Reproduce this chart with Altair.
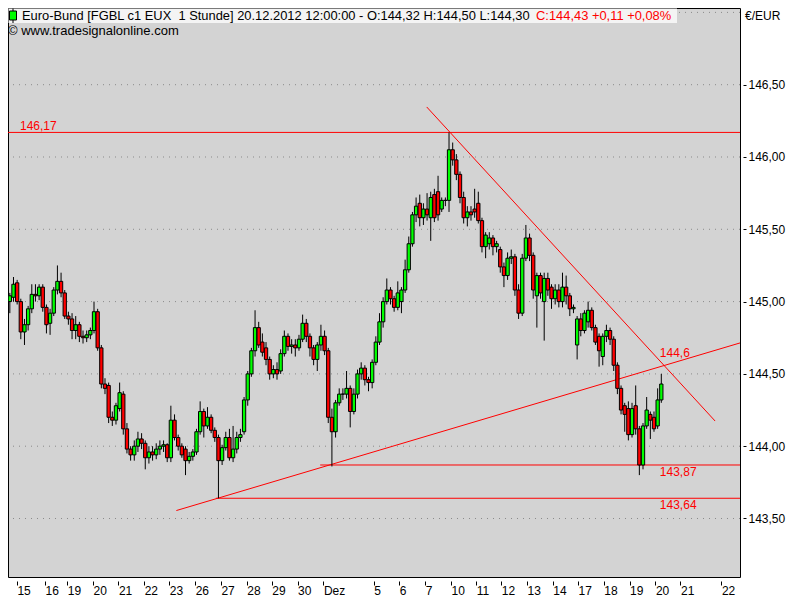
import altair as alt
import pandas as pd

FONT = "Liberation Sans"

# 2-hour candles, 14 Nov (late) .. 20 Dec 2012 12:00
opens = [145.00,145.03,145.13,145.00,144.79,144.84,144.95,145.05,145.04,145.10,
         144.96,144.85,144.92,145.08,145.14,145.06,144.90,144.88,144.80,144.84,
         144.76,144.75,144.77,144.80,144.93,144.68,144.43,144.42,144.20,144.18,
         144.26,144.36,144.12,143.98,143.94,144.00,144.05,144.02,143.92,143.96,
         143.94,143.98,144.00,144.01,143.92,144.18,144.06,144.00,143.98,143.90,
         143.93,143.96,144.10,144.24,144.14,144.20,144.11,144.06,143.90,143.99,
         144.06,143.92,143.98,144.06,144.10,144.32,144.50,144.66,144.82,144.72,
         144.68,144.60,144.50,144.53,144.52,144.64,144.76,144.69,144.70,144.68,
         144.74,144.85,144.76,144.68,144.60,144.70,144.76,144.66,144.20,144.10,
         144.30,144.36,144.36,144.40,144.24,144.36,144.50,144.54,144.46,144.44,
         144.58,144.72,144.86,145.00,145.08,145.02,144.96,145.00,145.08,145.22,
         145.40,145.60,145.68,145.58,145.64,145.58,145.74,145.76,145.64,145.70,
         145.70,146.05,145.98,145.88,145.72,145.58,145.62,145.64,145.68,145.56,
         145.38,145.40,145.44,145.38,145.36,145.24,145.18,145.30,145.31,145.08,
         144.92,145.30,145.44,145.32,145.04,145.18,145.00,145.16,145.10,145.02,
         145.08,145.00,145.10,145.04,144.95,144.70,144.88,144.80,144.86,144.94,
         144.82,144.76,144.62,144.76,144.80,144.74,144.56,144.40,144.28,144.26,
         144.08,144.28,144.12,143.87,144.14,144.22,144.20,144.14,144.32]
highs = [145.06,145.17,145.15,145.02,144.88,144.97,145.12,145.12,145.12,145.12,
         144.98,144.95,145.10,145.25,145.20,145.08,144.93,144.92,144.90,144.86,
         144.80,144.80,144.82,145.00,144.95,144.70,144.47,144.44,144.24,144.30,
         144.44,144.38,144.16,144.00,144.04,144.10,144.09,144.04,144.00,144.00,
         144.02,144.04,144.04,144.02,144.28,144.22,144.08,144.02,144.00,143.96,
         143.98,144.12,144.31,144.26,144.27,144.22,144.13,144.08,144.01,144.10,
         144.12,144.14,144.10,144.12,144.34,144.52,144.68,144.94,144.86,144.78,
         144.72,144.62,144.56,144.58,144.67,144.80,144.78,144.74,144.74,144.77,
         144.91,144.88,144.78,144.70,144.72,144.84,144.80,144.68,144.26,144.32,
         144.40,144.40,144.52,144.42,144.40,144.53,144.58,144.56,144.48,144.60,
         144.76,144.92,145.03,145.16,145.10,145.04,145.14,145.10,145.29,145.45,
         145.62,145.72,145.74,145.68,145.75,145.76,145.78,145.87,145.72,145.72,
         146.17,146.10,146.02,145.90,145.76,145.66,145.66,145.78,145.76,145.58,
         145.48,145.48,145.46,145.42,145.38,145.27,145.34,145.36,145.33,145.12,
         145.33,145.53,145.47,145.34,145.20,145.20,145.20,145.20,145.12,145.12,
         145.12,145.20,145.18,145.06,144.98,144.90,144.92,144.94,145.00,144.96,
         144.84,144.78,144.78,144.84,144.82,144.76,144.58,144.42,144.30,144.31,
         144.30,144.42,144.14,144.16,144.34,144.24,144.24,144.40,144.50]
lows = [144.92,145.00,144.98,144.74,144.70,144.80,144.92,145.00,145.01,144.93,
        144.78,144.77,144.90,145.05,145.03,144.88,144.84,144.74,144.74,144.72,
        144.71,144.72,144.74,144.78,144.66,144.40,144.36,144.16,144.14,144.15,
        144.24,144.08,143.95,143.90,143.90,143.96,143.98,143.84,143.88,143.90,
        143.91,143.94,143.96,143.89,143.89,144.04,143.97,143.92,143.80,143.88,
        143.90,143.94,144.08,144.06,144.12,144.09,144.03,143.64,143.87,143.97,
        143.90,143.89,143.95,144.03,144.08,144.28,144.48,144.62,144.68,144.62,
        144.56,144.46,144.47,144.46,144.50,144.62,144.66,144.64,144.62,144.66,
        144.72,144.72,144.62,144.56,144.52,144.66,144.63,144.16,143.86,144.06,
        144.28,144.32,144.33,144.13,144.22,144.33,144.46,144.42,144.38,144.40,
        144.56,144.70,144.82,144.98,144.98,144.93,144.94,144.92,145.06,145.20,
        145.38,145.55,145.52,145.53,145.56,145.42,145.55,145.56,145.62,145.66,
        145.62,145.94,145.84,145.68,145.54,145.52,145.56,145.58,145.54,145.34,
        145.30,145.36,145.32,145.34,145.20,145.10,145.15,145.26,145.04,144.88,
        144.90,145.28,145.28,145.02,144.82,145.02,144.73,145.04,144.95,144.98,
        144.96,144.96,144.98,144.90,144.92,144.60,144.76,144.78,144.82,144.80,
        144.70,144.55,144.56,144.72,144.70,144.52,144.36,144.22,144.10,144.04,
        144.06,144.08,143.80,143.84,144.12,144.05,144.10,144.12,144.30]
closes = [145.04,145.12,145.00,144.79,144.84,144.95,145.05,145.04,145.10,144.96,
          144.84,144.92,145.08,145.14,145.06,144.90,144.88,144.80,144.84,144.76,
          144.75,144.77,144.80,144.93,144.68,144.43,144.40,144.20,144.18,144.28,
          144.37,144.12,143.98,143.94,144.00,144.05,144.02,143.92,143.96,143.94,
          143.98,144.00,144.01,143.92,144.18,144.06,144.00,143.94,143.90,143.93,
          143.96,144.10,144.24,144.14,144.20,144.11,144.06,143.90,143.99,144.06,
          143.92,143.98,144.06,144.08,144.32,144.50,144.66,144.82,144.70,144.65,
          144.60,144.50,144.53,144.50,144.64,144.76,144.69,144.70,144.68,144.74,
          144.85,144.76,144.68,144.60,144.70,144.76,144.66,144.20,144.10,144.30,
          144.36,144.36,144.40,144.24,144.36,144.50,144.54,144.46,144.44,144.58,
          144.72,144.86,145.00,145.08,145.02,144.96,145.06,145.08,145.22,145.40,
          145.60,145.66,145.58,145.64,145.60,145.72,145.58,145.60,145.70,145.70,
          146.05,145.98,145.88,145.72,145.58,145.62,145.60,145.62,145.56,145.38,
          145.46,145.44,145.38,145.40,145.24,145.18,145.30,145.31,145.08,144.92,
          145.30,145.44,145.32,145.08,145.18,145.06,145.16,145.08,145.02,145.08,
          145.00,145.10,145.04,144.95,144.96,144.88,144.80,144.92,144.94,144.82,
          144.72,144.66,144.76,144.80,144.74,144.56,144.40,144.25,144.22,144.08,
          144.26,144.12,143.87,144.14,144.25,144.18,144.12,144.32,144.43]

day_labels = ["15", "16", "19", "20", "21", "22", "23", "26", "27", "28", "29", "30",
              "Dez", "5", "6", "7", "10", "11", "12", "13", "14", "17", "18", "19",
              "20", "21", "22"]
day_ticks = [1.94, 9.61, 15.68, 22.72, 29.66, 36.71, 43.59, 50.64, 57.68, 64.73,
             71.58, 78.63, 85.68, 99.42, 106.41, 113.51, 120.56, 127.41, 134.27,
             141.31, 148.36, 155.24, 162.29, 169.34, 176.38, 183.24, 194.43]
price_ticks = [143.5, 144.0, 144.5, 145.0, 145.5, 146.0, 146.5]
grid_levels = [143.5, 144.0, 144.5, 145.0, 145.5, 146.0, 146.5, 147.0]

level_values = [146.17, 143.87, 143.64]
level_starts = [-0.5, 84.8, 56.3]
level_ends = [199.5, 199.5, 199.5]

trend_names = ["up", "up", "down", "down"]
trend_x = [45.5, 199.5, 113.9, 192.7]
trend_y = [143.555, 144.714, 146.346, 144.174]

above_labels = ["146,17", "144,6"]
above_prices = [146.17, 144.6]
above_x = [2.78, 177.6]
below_labels = ["143,87", "143,64"]
below_prices = [143.87, 143.64]
below_x = [177.6, 177.6]

title_black = "Euro-Bund [FGBL c1 EUX\u00a0 1 Stunde] 20.12.2012 12:00:00 - O:144,32 H:144,50 L:144,30"
title_red = "C:144,43 +0,11 +0,08%"
copyright_text = "\u00a9 www.tradesignalonline.com"
unit_text = "\u20ac/EUR"

W, H = 732, 569
XS = alt.Scale(domain=[-0.5, 199.5], nice=False, zero=False)
YS = alt.Scale(domain=[143.0954, 147.0304], nice=False, zero=False)

lab_arr = "[" + ",".join("'%s'" % l for l in day_labels) + "]"
tick_arr = "[" + ",".join(repr(v) for v in day_ticks) + "]"

x_axis = alt.Axis(values=day_ticks, labelExpr=f"{lab_arr}[indexof({tick_arr}, datum.value)]",
                  title=None, grid=False, domain=False, ticks=True, tickSize=4,
                  tickColor="black", offset=4, labelAlign="left", labelBaseline="top",
                  labelPadding=0, labelFont=FONT, labelFontSize=12, labelColor="black",
                  labelOverlap=False, labelFlush=False, labelBound=False)
y_axis = alt.Axis(orient="right", values=price_ticks,
                  labelExpr="replace(format(datum.value, '.2f'), '.', ',')",
                  title=None, grid=False, domain=False, ticks=True, tickSize=3,
                  tickColor="black", offset=3, labelPadding=2, labelFont=FONT,
                  labelFontSize=12, labelColor="black", labelOverlap=False,
                  labelFlush=False, labelBound=False)


def X(f):
    return alt.X(f, type="quantitative", scale=XS, axis=x_axis)


def Y(f):
    return alt.Y(f, type="quantitative", scale=YS, axis=y_axis)


candles = pd.DataFrame({"i": list(range(len(closes))), "open": opens, "high": highs,
                        "low": lows, "close": closes})
grid_df = pd.DataFrame({"p": grid_levels})
levels_df = pd.DataFrame({"p": level_values, "s": level_starts, "e": level_ends})
trend_df = pd.DataFrame({"name": trend_names, "x": trend_x, "y": trend_y})
above_df = pd.DataFrame({"p": above_prices, "x": above_x, "t": above_labels})
below_df = pd.DataFrame({"p": below_prices, "x": below_x, "t": below_labels})
one = pd.DataFrame({"a": [0]})

grid = alt.Chart(grid_df).mark_rule(color="#8a8a8a", strokeDash=[1, 5], strokeWidth=1).encode(
    y=Y("p"))

levels = alt.Chart(levels_df).mark_rule(color="#ff0000", strokeWidth=1).encode(
    x=X("s"), x2="e", y=Y("p"))

trends = alt.Chart(trend_df).mark_line(color="#ff0000", strokeWidth=1).encode(
    x=X("x"), y=Y("y"), detail="name")

wicks = alt.Chart(candles).mark_rule(color="black", strokeWidth=1).encode(
    x=X("i"), y=Y("low"), y2="high")

bodies = alt.Chart(candles).transform_calculate(
    x1="datum.i - 0.45", x2="datum.i + 0.45"
).mark_bar(stroke="black", strokeWidth=1).encode(
    x=X("x1"), x2="x2", y=Y("open"), y2="close",
    color=alt.condition("datum.close >= datum.open", alt.value("#00ff00"), alt.value("#ff0000")))

above_txt = alt.Chart(above_df).mark_text(
    align="left", baseline="alphabetic", dy=-2, font=FONT, fontSize=12, color="#ff0000"
).encode(x=X("x"), y=Y("p"), text="t")

below_txt = alt.Chart(below_df).mark_text(
    align="left", baseline="top", dy=2, font=FONT, fontSize=12, color="#ff0000"
).encode(x=X("x"), y=Y("p"), text="t")

box = alt.Chart(one).mark_rect(color="#f4f4f4").encode(
    x=alt.value(0.5), x2=alt.value(669), y=alt.value(0.5), y2=alt.value(15))
icon_wick = alt.Chart(one).mark_rule(color="black", strokeWidth=1).encode(
    x=alt.value(5), y=alt.value(0.5), y2=alt.value(15))
icon_body = alt.Chart(one).mark_rect(color="#00ff00", stroke="black", strokeWidth=1).encode(
    x=alt.value(1.5), x2=alt.value(8.5), y=alt.value(3), y2=alt.value(12))
t_black = alt.Chart(one).mark_text(
    align="left", baseline="middle", font=FONT, fontSize=12.9, color="black", text=title_black
).encode(x=alt.value(14), y=alt.value(8))
t_red = alt.Chart(one).mark_text(
    align="left", baseline="middle", font=FONT, fontSize=12.9, color="#ff0000", text=title_red
).encode(x=alt.value(528), y=alt.value(8))
t_copy = alt.Chart(one).mark_text(
    align="left", baseline="middle", font=FONT, fontSize=13, color="black", text=copyright_text
).encode(x=alt.value(0), y=alt.value(23))
t_unit = alt.Chart(one).mark_text(
    align="left", baseline="middle", font=FONT, fontSize=12, color="black", text=unit_text
).encode(x=alt.value(737), y=alt.value(7.5))

chart = alt.layer(
    grid, levels, trends, wicks, bodies, above_txt, below_txt,
    box, icon_wick, icon_body, t_black, t_red, t_copy, t_unit
).properties(
    width=W, height=H,
    autosize=alt.AutoSizeParams(type="none"),
    padding={"left": 0, "top": 0, "right": 52, "bottom": 23},
).configure(background="white").configure_view(
    fill="#d3d3d3", stroke="black", strokeWidth=1)

chart.save("out.html", embed_options={"renderer": "svg", "actions": False})
